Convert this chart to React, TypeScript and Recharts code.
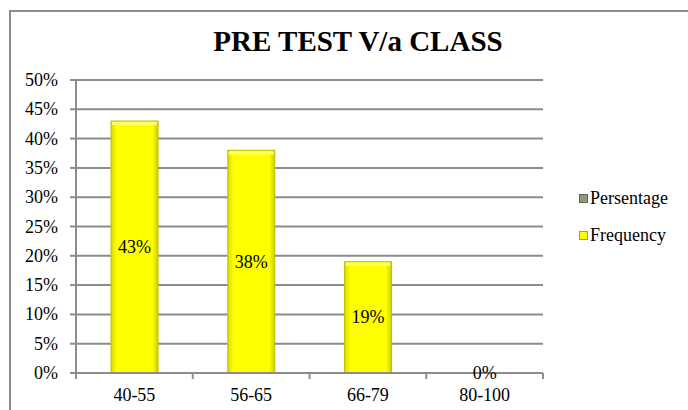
import React from "react";
import { BarChart, Bar, XAxis, YAxis, CartesianGrid } from "recharts";

const categories = ["40-55", "56-65", "66-79", "80-100"];
const frequency = [0.43, 0.38, 0.19, 0];
const yTicks = [0, 0.05, 0.1, 0.15, 0.2, 0.25, 0.3, 0.35, 0.4, 0.45, 0.5];
const legendItems = [
  { name: "Persentage", color: "#8e9c76", edge: "#5d6b4a" },
  { name: "Frequency", color: "#ffff00", edge: "#a8a800" },
];

const data = categories.map((c, i) => ({ name: c, Frequency: frequency[i] }));

const FONT = "'Liberation Serif', 'Times New Roman', serif";
const GREY = "#8c8c8c";
const FS = 18;

const pct = (v: number) => `${Math.round(v * 100)}%`;

// excel puts the x ticks between categories, not at their centres
function CategoryTick(props: any) {
  const { x, y, payload, index, visibleTicksCount } = props;
  const half = payload.offset || 0;
  const axisY = y - 8;
  return (
    <g>
      <line x1={x - half} x2={x - half} y1={axisY} y2={axisY + 6} stroke={GREY} strokeWidth={2} />
      {index === visibleTicksCount - 1 && (
        <line x1={x + half} x2={x + half} y1={axisY} y2={axisY + 6} stroke={GREY} strokeWidth={2} />
      )}
      <text x={x} y={y + 20} textAnchor="middle" fill="#000" fontFamily="Liberation Serif" fontSize={FS}>
        {payload.value}
      </text>
    </g>
  );
}

function PctTick(props: any) {
  const { x, y, payload } = props;
  return (
    <text x={x} y={y + 6} textAnchor="end" fill="#000" fontFamily="Liberation Serif" fontSize={FS}>
      {pct(payload.value)}
    </text>
  );
}

function BarValue(props: any) {
  const { x, y, width, height, value } = props;
  const v = Array.isArray(value) ? value[1] : value;
  return (
    <text x={x + width / 2} y={y + height / 2 + 6} textAnchor="middle" fill="#000" fontFamily="Liberation Serif" fontSize={FS}>
      {pct(Number(v))}
    </text>
  );
}

// bevelled yellow column, nothing drawn for an empty class
function BevelBar(props: any) {
  const { x, y, width, height, payload } = props;
  if (!payload || !payload.Frequency) return <g />;
  return (
    <g>
      <rect x={x} y={y} width={width} height={height} fill="url(#yellowBar)" stroke="#bfbf00" strokeWidth={1} />
      <rect x={x + 1} y={y + 1} width={width - 2} height={3} fill="#ffff66" />
    </g>
  );
}

function LegendBox() {
  return (
    <div style={{ fontFamily: FONT, fontSize: FS, color: "#000" }}>
      {legendItems.map((it) => (
        <div key={it.name} style={{ display: "flex", alignItems: "center", height: 37 }}>
          <span
            style={{
              display: "inline-block",
              width: 7,
              height: 7,
              marginRight: 2,
              background: it.color,
              border: `1px solid ${it.edge}`,
            }}
          />
          {it.name}
        </div>
      ))}
    </div>
  );
}

export default function App() {
  return (
    <div style={{ position: "fixed", left: 0, top: 0, width: 688, height: 410, overflow: "hidden", background: "#fff" }}>
      <div
        style={{
          position: "absolute",
          left: 9,
          top: 10,
          width: 700,
          height: 420,
          border: `2px solid ${GREY}`,
        }}
      />
      <div
        style={{
          position: "absolute",
          left: 0,
          top: 27,
          width: 716,
          textAlign: "center",
          fontFamily: FONT,
          fontWeight: "bold",
          fontSize: 29,
          lineHeight: "29px",
          color: "#000",
        }}
      >
        PRE TEST V/a CLASS
      </div>
      <div style={{ position: "absolute", left: 0, top: 0 }}>
        <BarChart
          width={688}
          height={410}
          data={data}
          margin={{ top: 80, right: 145, bottom: 0, left: 0 }}
          barCategoryGap="30%"
        >
          <defs>
            <linearGradient id="yellowBar" x1="0" y1="0" x2="1" y2="0">
              <stop offset="0%" stopColor="#dada00" />
              <stop offset="12%" stopColor="#ffff00" />
              <stop offset="88%" stopColor="#ffff00" />
              <stop offset="100%" stopColor="#cfcf00" />
            </linearGradient>
          </defs>
          <CartesianGrid vertical={false} stroke={GREY} strokeWidth={2} />
          <XAxis
            dataKey="name"
            height={37}
            stroke={GREY}
            strokeWidth={2}
            tickLine={false}
            tick={<CategoryTick />}
            interval={0}
          />
          <YAxis
            domain={[0, 0.5]}
            ticks={yTicks}
            width={76}
            stroke={GREY}
            strokeWidth={2}
            tickSize={6}
            tickMargin={12}
            tick={<PctTick />}
            interval={0}
          />
          <Bar
            dataKey="Frequency"
            fill="#ffff00"
            minPointSize={1}
            shape={<BevelBar />}
            isAnimationActive={false}
            label={<BarValue />}
          />
        </BarChart>
      </div>
      <div style={{ position: "absolute", left: 579, top: 180 }}>
        <LegendBox />
      </div>
    </div>
  );
}
